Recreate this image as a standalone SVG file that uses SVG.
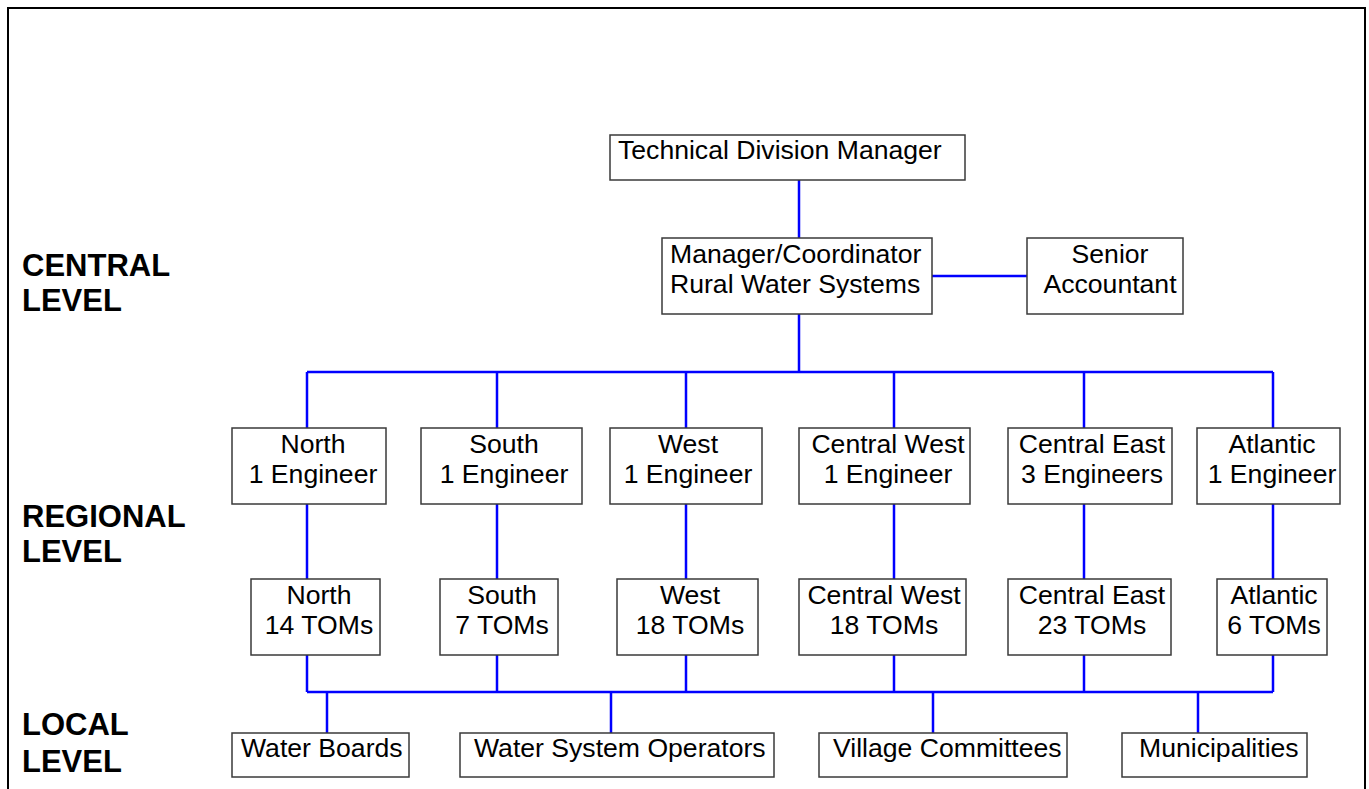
<svg xmlns="http://www.w3.org/2000/svg" width="1369" height="789" viewBox="0 0 1369 789">
<style>
.box{fill:#fff;stroke:#3a3a3a;stroke-width:1.5}
.t{font-family:"Liberation Sans",Arial,sans-serif;font-size:26.6px;fill:#000}
.c{text-anchor:middle}
.lvl{font-family:"Liberation Sans",Arial,sans-serif;font-size:31px;font-weight:bold;fill:#000}
.ln{stroke:#0000ff;stroke-width:2.5;fill:none}
</style>
<rect x="0" y="0" width="1369" height="789" fill="#fff"/>
<rect x="8" y="8" width="1357" height="800" fill="none" stroke="#000" stroke-width="2"/>

<g id="labels">
<text class="lvl" x="22" y="276">CENTRAL</text>
<text class="lvl" x="22" y="311">LEVEL</text>
<text class="lvl" x="22" y="527">REGIONAL</text>
<text class="lvl" x="22" y="562">LEVEL</text>
<text class="lvl" x="22" y="735">LOCAL</text>
<text class="lvl" x="22" y="772">LEVEL</text>
</g>

<g id="connectors">
<path class="ln" d="M799 180V238"/>
<path class="ln" d="M932 276H1027"/>
<path class="ln" d="M799 314V372M307 372H1273M307 372V428M497 372V428M686 372V428M894 372V428M1084 372V428M1273 372V428"/>
<path class="ln" d="M307 504V579M497 504V579M686 504V579M894 504V579M1084 504V579M1273 504V579"/>
<path class="ln" d="M307 655V692M497 655V692M686 655V692M894 655V692M1084 655V692M1273 655V692M307 692H1273"/>
<path class="ln" d="M327 692V733M611 692V733M933 692V733M1198 692V733"/>
</g>

<g id="tech"><rect class="box" x="610" y="135" width="355" height="45"/><text class="t" x="618" y="159">Technical Division Manager</text></g>
<g id="manager"><rect class="box" x="662" y="238" width="270" height="76"/><text class="t" x="670" y="263">Manager/Coordinator</text><text class="t" x="670" y="293">Rural Water Systems</text></g>
<g id="senior"><rect class="box" x="1027" y="238" width="156" height="76"/><text class="t c" x="1110" y="263">Senior</text><text class="t c" x="1110" y="293">Accountant</text></g>

<g id="reg-north"><rect class="box" x="232" y="428" width="154" height="76"/><text class="t c" x="313" y="453">North</text><text class="t c" x="313" y="483">1 Engineer</text></g>
<g id="reg-south"><rect class="box" x="421" y="428" width="161" height="76"/><text class="t c" x="504" y="453">South</text><text class="t c" x="504" y="483">1 Engineer</text></g>
<g id="reg-west"><rect class="box" x="610" y="428" width="152" height="76"/><text class="t c" x="688" y="453">West</text><text class="t c" x="688" y="483">1 Engineer</text></g>
<g id="reg-cw"><rect class="box" x="799" y="428" width="171" height="76"/><text class="t c" x="888" y="453">Central West</text><text class="t c" x="888" y="483">1 Engineer</text></g>
<g id="reg-ce"><rect class="box" x="1008" y="428" width="164" height="76"/><text class="t c" x="1092" y="453">Central East</text><text class="t c" x="1092" y="483">3 Engineers</text></g>
<g id="reg-atl"><rect class="box" x="1197" y="428" width="143" height="76"/><text class="t c" x="1272" y="453">Atlantic</text><text class="t c" x="1272" y="483">1 Engineer</text></g>

<g id="tom-north"><rect class="box" x="251" y="579" width="129" height="76"/><text class="t c" x="319" y="604">North</text><text class="t c" x="319" y="634">14 TOMs</text></g>
<g id="tom-south"><rect class="box" x="440" y="579" width="118" height="76"/><text class="t c" x="502" y="604">South</text><text class="t c" x="502" y="634">7 TOMs</text></g>
<g id="tom-west"><rect class="box" x="617" y="579" width="141" height="76"/><text class="t c" x="690" y="604">West</text><text class="t c" x="690" y="634">18 TOMs</text></g>
<g id="tom-cw"><rect class="box" x="799" y="579" width="167" height="76"/><text class="t c" x="884" y="604">Central West</text><text class="t c" x="884" y="634">18 TOMs</text></g>
<g id="tom-ce"><rect class="box" x="1008" y="579" width="163" height="76"/><text class="t c" x="1092" y="604">Central East</text><text class="t c" x="1092" y="634">23 TOMs</text></g>
<g id="tom-atl"><rect class="box" x="1217" y="579" width="110" height="76"/><text class="t c" x="1274" y="604">Atlantic</text><text class="t c" x="1274" y="634">6 TOMs</text></g>

<g id="loc-wb"><rect class="box" x="232" y="733" width="177" height="44"/><text class="t" x="241" y="757">Water Boards</text></g>
<g id="loc-wso"><rect class="box" x="460" y="733" width="314" height="44"/><text class="t" x="474" y="757">Water System Operators</text></g>
<g id="loc-vc"><rect class="box" x="819" y="733" width="248" height="44"/><text class="t" x="833" y="757">Village Committees</text></g>
<g id="loc-mun"><rect class="box" x="1122" y="733" width="185" height="44"/><text class="t" x="1139" y="757">Municipalities</text></g>
</svg>
